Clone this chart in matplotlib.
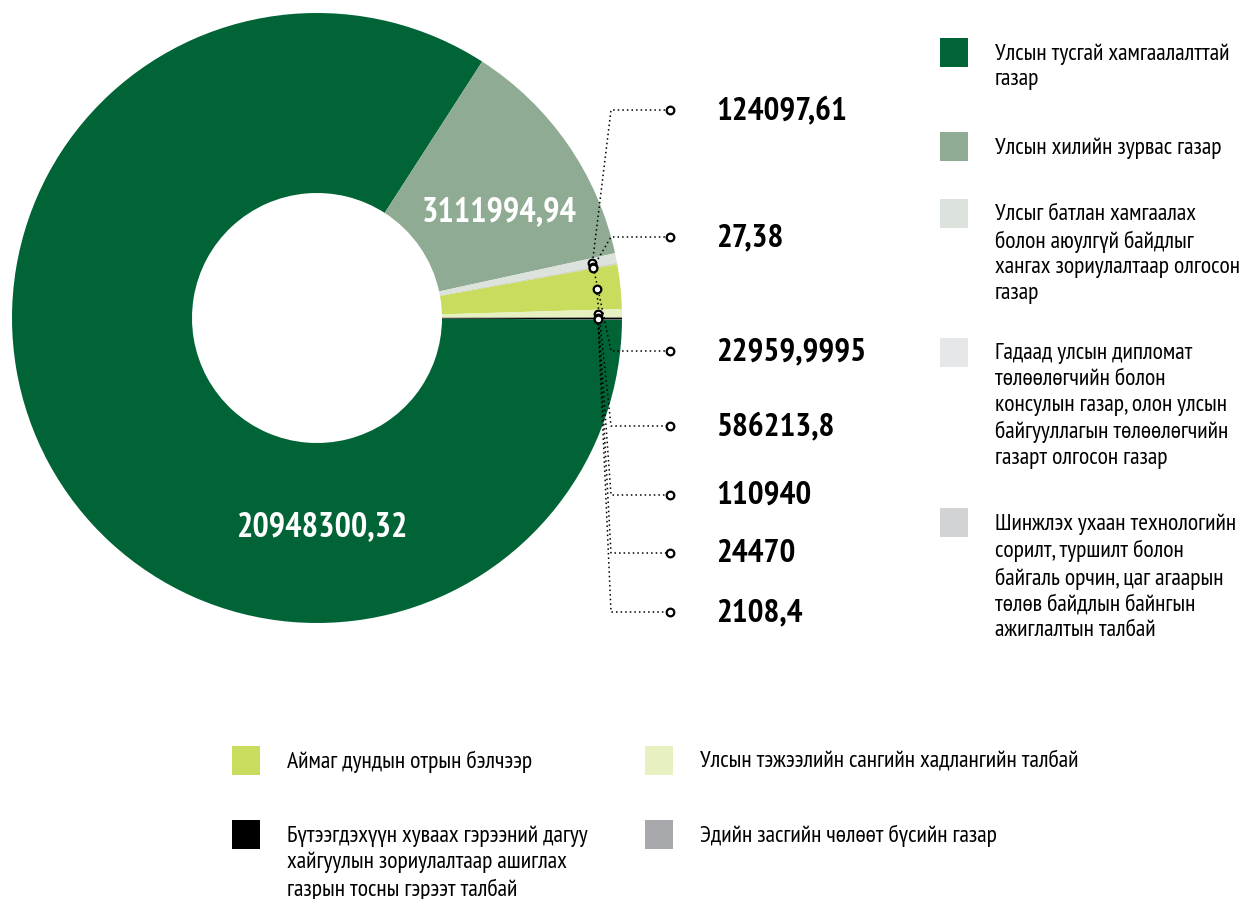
import numpy as np
import matplotlib.pyplot as plt
from matplotlib import font_manager
from matplotlib.patches import Rectangle

# pick a narrow font with Cyrillic, fall back to DejaVu
preferred = ['PT Sans Narrow', 'Fira Sans Extra Condensed', 'Fira Sans Condensed',
             'Roboto Condensed', 'Open Sans Condensed', 'Liberation Sans Narrow',
             'Ubuntu Condensed', 'DejaVu Sans Condensed']
installed = {f.name for f in font_manager.fontManager.ttflist}
narrow = next((n for n in preferred if n in installed), 'DejaVu Sans')
plt.rcParams['font.family'] = [narrow, 'DejaVu Sans']

categories = [
    "Улсын тусгай хамгаалалттай\nгазар",
    "Улсын хилийн зурвас газар",
    "Улсыг батлан хамгаалах\nболон аюулгүй байдлыг\nхангах зориулалтаар олгосон\nгазар",
    "Гадаад улсын дипломат\nтөлөөлөгчийн болон\nконсулын газар, олон улсын\nбайгууллагын төлөөлөгчийн\nгазарт олгосон газар",
    "Шинжлэх ухаан технологийн\nсорилт, туршилт болон\nбайгаль орчин, цаг агаарын\nтөлөв байдлын байнгын\nажиглалтын талбай",
    "Аймаг дундын отрын бэлчээр",
    "Улсын тэжээлийн сангийн хадлангийн талбай",
    "Бүтээгдэхүүн хуваах гэрээний дагуу\nхайгуулын зориулалтаар ашиглах\nгазрын тосны гэрээт талбай",
    "Эдийн засгийн чөлөөт бүсийн газар",
]
values = [20948300.32, 3111994.94, 124097.61, 27.38, 22959.9995,
          586213.8, 110940, 24470, 2108.4]
value_labels = ["20948300,32", "3111994,94", "124097,61", "27,38", "22959,9995",
                "586213,8", "110940", "24470", "2108,4"]
colors = ["#006437", "#8fab93", "#dce3dc", "#e6e7e9", "#d1d3d5",
          "#c9dc5d", "#e6f0c0", "#000000", "#a7a9ac"]

W, H = 1246, 899


def Y(y):
    return H - y


fig = plt.figure(figsize=(W / 100, H / 100), dpi=100)
ax = fig.add_axes([0, 0, 1, 1])
renderer = fig.canvas.get_renderer()


def fit_size(s, target_px, weight='normal'):
    # font size that makes s about target_px wide
    t = fig.text(0, 0, s, fontsize=20, fontweight=weight)
    w = t.get_window_extent(renderer).width
    t.remove()
    return 20 * target_px / w


legend_fs = fit_size("хангах зориулалтаар олгосон", 244)
value_fs = fit_size("22959,9995", 150, 'bold')
inner_fs = fit_size("3111994,94", 154, 'bold')

cx, cy, R, r_in = 317, Y(318), 305, 125
wedges, _ = ax.pie(values, colors=colors, startangle=-0.3, counterclock=False,
                   center=(cx, cy), radius=R,
                   wedgeprops=dict(width=R - r_in, linewidth=0))

ax.set_xlim(0, W)
ax.set_ylim(0, H)
ax.set_aspect('equal')
ax.axis('off')

# big values inside the ring
ax.text(499, Y(212), value_labels[1], color='white', fontsize=inner_fs, fontweight='bold',
        ha='center', va='center')
ax.text(323, Y(527), value_labels[0], color='white', fontsize=inner_fs, fontweight='bold',
        ha='center', va='center')

# leader lines for the small slices
label_y = [110, 237, 351, 426, 495, 553, 612]
knee_x, end_x, text_x = 611, 670, 716
for i, ly in zip(range(2, 9), label_y):
    w = wedges[i]
    ang = np.deg2rad((w.theta1 + w.theta2) / 2)
    px = cx + 281 * np.cos(ang)
    py = cy + 281 * np.sin(ang)
    ax.plot([px, knee_x, end_x], [py, Y(ly), Y(ly)], color='black', lw=1.1,
            linestyle=(0, (1, 2)), zorder=3)
    ax.plot([px], [py], marker='o', ms=5.5, mfc='white', mec='black', mew=1.6, zorder=4)
    ax.plot([end_x], [Y(ly)], marker='o', ms=5.5, mfc='white', mec='black', mew=1.6, zorder=4)
    ax.text(text_x, Y(ly + 1), value_labels[i], fontsize=value_fs, fontweight='bold',
            ha='left', va='center')

# legend
legend_pos = [
    (940, 38, 995), (940, 132, 995), (940, 199, 995), (940, 338, 995), (940, 508, 995),
    (232, 746, 287), (645, 746, 700), (232, 820, 287), (645, 820, 700),
]
for (sx, sy, tx), lab, col in zip(legend_pos, categories, colors):
    ax.add_patch(Rectangle((sx, Y(sy + 29)), 28, 29, facecolor=col, edgecolor='none'))
    ax.text(tx, Y(sy + 5), lab, fontsize=legend_fs, ha='left', va='top', linespacing=1.3)

fig.savefig('out.png', dpi=100)
